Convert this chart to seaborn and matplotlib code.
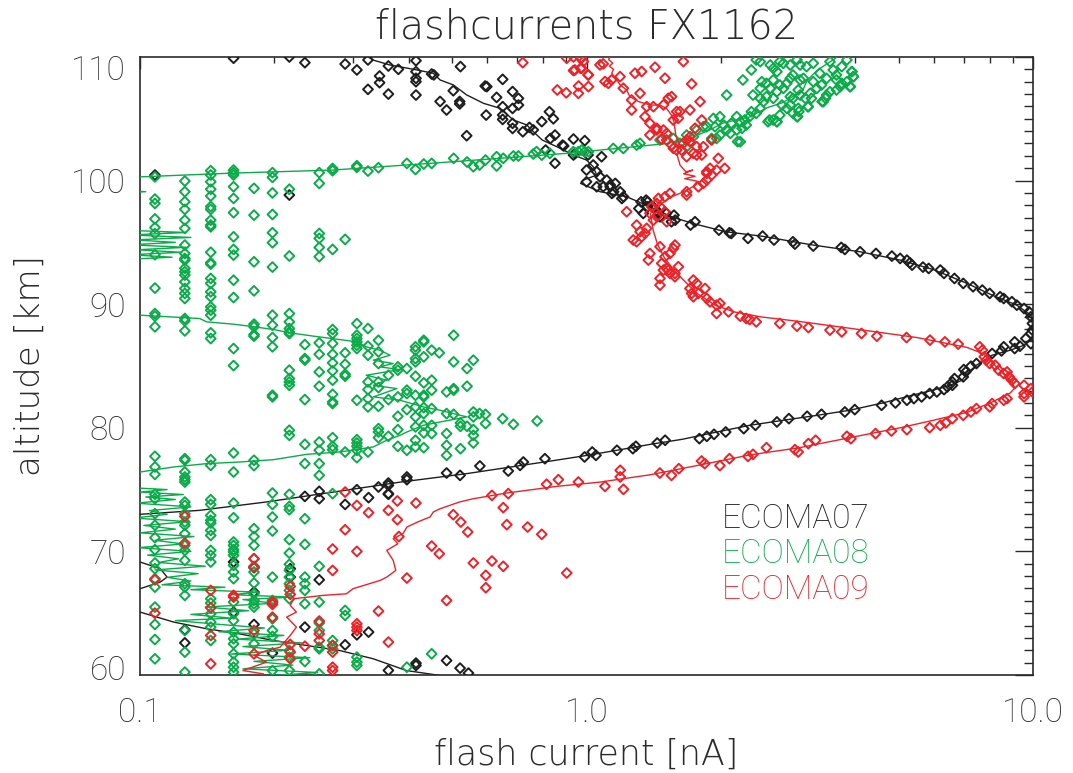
import numpy as np
import pandas as pd
import matplotlib
matplotlib.use('Agg')
import matplotlib.pyplot as plt
import matplotlib.transforms as mtransforms
import seaborn as sns
from matplotlib.ticker import FixedLocator, MultipleLocator, NullFormatter

# ---------------- data (flash current [nA], altitude [km]) ----------------
# ECOMA07 profile line
e07_line_cur = [0.31, 0.332, 0.362, 0.417, 0.454, 0.470, 0.503, 0.539, 0.588, 0.640, 0.686, 0.735,
                0.760, 0.796, 0.858, 0.935, 1.0, 1.035, 1.054, 0.984, 0.97, 1.072, 1.23, 1.36, 1.55,
                1.73, 2.05, 2.47, 3.22, 4.1, 5.04, 5.97, 7.12, 8.1, 9.2, 9.89, 10.0, 9.97, 9.55, 8.9,
                8.1, 7.47, 7.12, 6.94, 6.52, 5.97, 5.44, 4.61, 3.89, 3.29, 2.76, 2.32, 1.96, 1.64,
                1.39, 1.17, 0.984, 0.828, 0.760, 0.539, 0.382, 0.271, 0.192, 0.136, 0.1, 0.09, 0.09,
                0.1, 0.111, 0.115, 0.111, 0.1, 0.09, 0.09, 0.1, 0.119, 0.141, 0.167, 0.199, 0.236,
                0.280, 0.333, 0.395, 0.47, 0.5]
e07_line_alt = [110.5, 109.76, 109.36, 108.95, 108.68, 108.14, 107.74, 106.93, 106.25, 105.85, 104.9,
                104.5, 103.96, 103.28, 102.74, 102.07, 101.66, 101.12, 100.45, 100.04, 99.77, 99.1,
                98.69, 98.02, 97.07, 96.53, 95.86, 95.5, 94.78, 94.24, 93.57, 92.81, 91.68, 90.73,
                89.92, 89.11, 88.17, 87.22, 86.68, 86.28, 85.87, 85.06, 84.39, 83.85, 83.44, 83.04,
                82.69, 82.01, 81.42, 81.01, 80.61, 80.2, 79.66, 79.07, 78.66, 78.18, 77.72, 77.3,
                77.1, 76.29, 75.6, 74.8, 74.0, 73.32, 73.0, 72.9, 69.3, 69.14, 68.6, 67.92, 67.52,
                66.98, 66.9, 65.2, 65.09, 64.28, 63.74, 63.33, 62.79, 62.39, 61.98, 61.31, 60.36,
                59.96, 59.8]

# ECOMA07 samples
e07_pts_cur = [0.162, 0.216, 0.234, 0.288, 0.306, 0.324, 0.324, 0.344, 0.344, 0.360, 0.360, 0.379,
               0.415, 0.415, 0.415, 0.415, 0.415, 0.450, 0.455, 0.470, 0.486, 0.503, 0.520, 0.520,
               0.522, 0.539, 0.593, 0.598, 0.596, 0.629, 0.649, 0.649, 0.649, 0.649, 0.683, 0.683,
               0.683, 0.683, 0.704, 0.704, 0.72, 0.745, 0.76, 0.794, 0.826, 0.843, 0.85, 0.81, 0.85,
               0.83, 0.889, 0.935, 0.935, 0.991, 1.008, 1.035, 1.054, 1.0, 1.0, 1.054, 0.108, 0.216,
               0.884, 0.943, 1.081, 1.072, 1.110, 1.09, 1.13, 1.15, 1.19, 1.2, 1.325, 1.37, 1.31,
               1.42, 1.445, 1.13, 1.16, 1.14, 1.21, 1.36, 1.37, 1.34, 1.41, 1.45, 1.46, 1.51, 1.57,
               1.58, 1.55, 1.71, 1.75, 1.98, 2.11, 2.30,
               2.09, 2.48, 2.63, 2.9, 2.93, 3.22, 3.72, 3.79, 4.1, 4.45, 4.83, 5.04, 5.22, 5.3, 5.36,
               5.67, 5.84, 6.2, 6.32, 6.67, 6.98, 7.34, 7.7, 8.0, 8.44, 8.6, 8.97, 9.2, 9.55, 9.8,
               9.89, 9.97, 9.97, 9.89, 9.64, 9.1, 8.6, 8.1,
               9.89, 9.35, 9.1, 8.5, 7.47, 7.26, 7.07, 7.0, 6.98, 6.67, 6.6, 6.6, 6.43, 6.32, 6.09,
               5.87, 5.63, 5.41, 5.22, 4.92, 4.58, 3.99, 3.79, 3.36, 3.12, 2.84, 2.67, 2.39, 2.25,
               2.05, 1.93, 1.86, 1.79, 1.50, 1.44, 1.29, 1.27, 1.17, 1.05, 1.03, 0.99,
               0.807, 0.722, 0.71, 0.668, 0.577, 0.521, 0.486, 0.396, 0.396, 0.36, 0.36, 0.36, 0.342,
               0.325, 0.306, 0.252, 0.234, 0.252, 0.288, 0.36,
               0.252, 0.217, 0.217, 0.180, 0.180, 0.162, 0.162, 0.180, 0.234, 0.306, 0.325, 0.288,
               0.198, 0.126, 0.126, 0.415, 0.415, 0.486, 0.521, 0.544, 0.36]
e07_pts_alt = [109.9, 110.0, 109.54, 109.43, 108.95, 109.76, 107.38, 108.46, 107.92, 109.27, 107.0,
               109.0, 109.7, 108.81, 108.27, 108.0, 106.92, 108.62, 108.55, 106.4, 105.71, 107.27,
               106.4, 106.2, 109.22, 103.63, 107.65, 107.6, 105.3, 106.73, 108.19, 105.98, 105.3,
               104.95, 107.2, 105.84, 104.63, 104.22, 106.65, 106.11, 103.95, 104.3, 104.1, 104.77,
               105.57, 105.0, 103.68, 102.47, 101.4, 103.4, 102.8, 103.36, 102.07, 103.23, 102.07,
               101.26, 100.72, 100.85, 99.9, 99.5, 100.45, 98.83,
               102.87, 102.2, 101.93, 100.31, 100.04, 99.5, 99.5, 99.09, 99.09, 98.55, 98.28, 98.28,
               97.74, 97.74, 97.47, 99.64, 99.77, 98.96, 98.69, 98.42, 97.88, 97.34, 97.88, 97.34,
               97.07, 97.34, 97.2, 96.8, 96.67, 96.4, 96.67, 95.99, 95.72, 95.32,
               95.78, 95.51, 95.19, 95.05, 94.86, 94.7, 94.59, 94.43, 94.24, 94.1, 93.89, 93.7,
               93.56, 93.35, 93.16, 93.0, 92.89, 92.76, 92.49, 92.08, 91.68, 91.41, 91.14, 90.87,
               90.6, 90.46, 90.2, 89.92, 89.65, 89.38, 88.98, 88.44, 87.9, 87.63, 87.22, 86.95,
               86.55, 86.01,
               86.8, 86.6, 86.41, 86.22, 85.2, 84.98, 84.52, 84.71, 84.12, 83.98, 83.71, 83.44,
               83.31, 83.09, 82.9, 82.77, 82.5, 82.36, 82.23, 82.01, 81.82, 81.47, 81.28, 81.09,
               80.93, 80.74, 80.47, 80.2, 79.93, 79.66, 79.47, 79.31, 79.12, 78.99, 78.77, 78.5,
               78.31, 78.18, 77.77, 78.04, 77.64,
               77.5, 77.23, 76.96, 76.5, 76.91, 76.15, 76.34, 76.02, 75.8, 75.53, 75.34, 74.67,
               75.21, 74.35, 74.99, 74.86, 74.45, 74.26, 73.8, 74.62,
               67.7, 68.6, 67.92, 68.68, 66.71, 69.14, 65.09, 64.09, 63.87, 63.25, 63.47, 62.44,
               61.77, 63.66, 62.6, 60.96, 60.77, 61.17, 60.55, 60.15, 60.37]

# ECOMA08 profile line
e08_line_cur = [3.75, 3.56, 3.28, 3.12, 3.05, 2.75, 2.54, 2.32, 2.02, 1.89, 1.70, 1.52, 1.17, 0.90,
                0.64, 0.45, 0.27, 0.16, 0.10, 0.09, 0.09, 0.103, 0.09, 0.09, 0.127, 0.095, 0.13,
                0.097, 0.12, 0.095, 0.127, 0.098, 0.124, 0.095, 0.118, 0.09, 0.09, 0.1, 0.119,
                0.136, 0.141, 0.162, 0.176, 0.199, 0.217, 0.245, 0.280, 0.306, 0.321, 0.344, 0.363,
                0.333, 0.369, 0.344, 0.382, 0.321, 0.357, 0.333, 0.376, 0.333, 0.382, 0.431, 0.47,
                0.521, 0.54, 0.47, 0.431, 0.396, 0.382, 0.357, 0.333, 0.280, 0.236, 0.199, 0.167,
                0.141, 0.119, 0.1, 0.09, 0.09, 0.115, 0.10, 0.125, 0.103, 0.12, 0.098, 0.13, 0.105,
                0.115, 0.097, 0.128, 0.102, 0.12, 0.10, 0.132, 0.108, 0.125, 0.099, 0.13, 0.104,
                0.122, 0.11, 0.14, 0.108, 0.135, 0.115, 0.13, 0.112, 0.155, 0.13, 0.185, 0.16, 0.22,
                0.17, 0.20, 0.14, 0.175, 0.13, 0.16, 0.12, 0.15, 0.19, 0.15, 0.21, 0.165, 0.23, 0.17,
                0.215, 0.16, 0.24, 0.18, 0.22, 0.17, 0.25, 0.19]
e08_line_alt = [110.3, 109.75, 108.9, 108.1, 107.3, 106.3, 105.9, 105.15, 104.65, 104.1, 103.4,
                103.0, 102.6, 102.2, 101.8, 101.4, 100.85, 100.6, 100.3, 100.25, 99.2, 99.1, 99.0,
                96.0, 95.8, 95.6, 95.4, 95.2, 95.0, 94.8, 94.6, 94.4, 94.2, 94.0, 93.8, 93.6, 89.2,
                89.11, 88.97, 88.84, 88.57, 88.38, 88.22, 87.95, 87.68, 87.41, 87.14, 86.95, 86.55,
                86.28, 85.87, 85.47, 85.2, 84.93, 84.71, 84.25, 83.85, 83.44, 83.17, 82.5, 82.23,
                81.69, 81.42, 81.01, 80.88, 80.47, 80.2, 79.66, 79.39, 78.99, 78.45, 78.04, 77.85,
                77.42, 77.23, 77.1, 76.83, 76.42, 76.3, 75.2, 75.0, 74.8, 74.6, 74.4, 74.2, 73.9,
                73.6, 73.3, 73.0, 72.7, 72.4, 72.1, 71.8, 71.5, 71.2, 70.9, 70.6, 70.3, 70.0, 69.7,
                69.4, 69.1, 68.8, 68.5, 68.2, 67.9, 67.6, 67.3, 67.1, 66.9, 66.7, 66.5, 66.3, 66.1,
                65.8, 65.5, 65.2, 64.9, 64.6, 64.4, 64.1, 63.8, 63.5, 63.2, 62.9, 62.6, 62.3, 62.0,
                61.7, 61.4, 61.1, 60.8, 60.5, 60.2, 59.9]

# ECOMA08 samples at low currents fall on discrete current steps
e08_col_cur = [0.108, 0.126, 0.144, 0.162, 0.180, 0.198, 0.216, 0.234, 0.252, 0.270, 0.288, 0.306,
               0.324, 0.342, 0.360, 0.378, 0.396, 0.414, 0.432, 0.450, 0.468, 0.486, 0.504, 0.522,
               0.540, 0.558, 0.576, 0.594]
e08_col_alt = [
    [100.3, 98.5, 98.15, 96.9, 96.2, 95.7, 94.0, 91.3, 89.24, 89.03, 88.17, 77.69, 76.83, 76.23,
     74.62, 74.26, 73.05, 72.11, 71.11, 70.14, 69.06, 68.6, 67.79, 67.11, 65.49, 64.09, 62.87, 61.31],
    [99.96, 99.1, 98.29, 97.67, 96.8, 96.13, 94.78, 94.1, 93.7, 93.56, 92.9, 92.62, 92.35, 91.8,
     91.27, 90.87, 90.46, 88.84, 88.65, 87.84, 77.5, 77.37, 76.42, 76.02, 75.8, 75.61, 73.99, 73.72,
     73.05, 72.37, 72.11, 71.43, 70.48, 70.08, 69.27, 67.38, 67.11, 66.44, 63.6, 61.85, 60.23],
    [100.8, 100.45, 99.9, 99.3, 98.75, 97.9, 97.67, 96.8, 96.4, 96.26, 94.2, 93.35, 93.24, 92.08,
     91.68, 91.0, 90.6, 89.78, 89.51, 89.11, 87.68, 87.22, 77.42, 76.96, 74.18, 73.8, 72.91, 72.51,
     72.29, 71.7, 71.29, 70.08, 69.68, 69.14, 66.17, 65.82, 64.95, 64.28, 63.87, 62.79],
    [100.85, 100.64, 100.45, 99.5, 98.56, 97.4, 95.45, 94.43, 93.97, 91.94, 90.54, 86.41, 85.03,
     77.96, 76.42, 73.91, 72.72, 70.76, 70.48, 70.14, 69.95, 69.68, 68.87, 68.33, 67.79, 65.9, 64.95,
     64.41, 63.47, 62.93, 62.52, 61.71, 61.04, 60.63, 60.23],
    [99.37, 97.2, 93.43, 91.08, 88.38, 88.17, 87.54, 87.41, 77.37, 76.94, 71.84, 71.2, 70.48, 69.41,
     68.79, 68.33, 67.44, 66.57, 66.03, 65.76, 65.49, 63.33, 62.52],
    [100.64, 100.26, 99.0, 97.26, 95.78, 94.97, 93.0, 89.11, 88.3, 87.3, 86.55, 82.63, 82.5, 74.72,
     73.8, 72.78, 71.65, 67.92, 66.03, 65.9, 64.55, 63.6, 63.12, 60.36],
    [99.3, 93.9, 89.24, 88.57, 88.03, 87.76, 87.62, 84.66, 83.98, 83.71, 83.44, 79.8, 79.39, 74.62,
     73.64, 73.37, 70.95, 69.86, 68.95, 68.46, 67.92, 67.38, 66.84, 66.17, 61.98, 61.44, 60.36],
    [86.73, 85.6, 85.47, 82.28, 78.66, 77.1, 72.64, 70.57, 67.92, 67.38, 66.84, 65.76, 61.09],
    [100.64, 99.77, 95.72, 95.32, 94.59, 93.84, 86.87, 85.95, 84.52, 83.36, 78.85, 78.18, 77.1, 76.15,
     68.79, 65.9, 64.2, 63.6, 62.25, 62.12, 60.09],
    [100.98, 100.8, 94.43, 87.95, 87.62, 86.82, 85.95, 85.25, 84.6, 83.85, 82.71, 82.09, 81.96, 79.2,
     78.5, 78.23, 74.67, 62.79, 62.39, 62.12],
    [95.24, 86.06, 85.14, 84.33, 84.17, 78.04, 65.22, 64.82],
    [101.2, 101.07, 88.43, 87.49, 87.22, 86.95, 86.68, 86.41, 82.23, 79.04, 78.77, 78.5, 78.18, 77.58,
     61.44, 61.04, 60.77],
    [100.77, 88.03, 86.6, 85.87, 83.71, 83.09, 82.36, 81.69, 78.04],
    [101.04, 87.08, 86.14, 85.2, 83.71, 83.25, 81.74, 79.93, 79.66, 79.2],
    [84.25, 82.28, 79.31],
    [84.93, 84.66, 82.5, 80.93, 79.85, 78.5],
    [101.39, 84.79, 83.04, 82.77, 81.47, 78.18, 60.63],
    [100.9, 86.55, 86.28, 85.6, 85.33, 84.17, 82.63, 81.69, 80.88, 80.07, 78.99, 78.45],
    [101.34, 87.08, 86.95, 85.74, 83.63, 82.63, 82.5, 81.63, 81.15, 80.2, 79.58, 78.39],
    [101.39, 86.28, 83.85, 83.04, 81.55, 80.2, 79.53, 61.71],
    [86.06],
    [82.9, 81.15, 79.53, 78.58, 77.77],
    [101.8, 87.49, 85.33, 83.17, 83.04, 81.09],
    [80.39, 80.12, 78.31],
    [101.5, 84.79, 83.36, 80.12],
    [101.12, 85.47, 81.28, 80.88, 79.85, 79.39, 78.77],
    [101.26, 81.15],
    [101.66, 81.09, 80.34],
]
# ECOMA08 samples at higher currents
e08_pts_cur = [0.629, 0.629, 0.651, 0.649, 0.686, 0.686, 0.704, 0.760, 0.773, 0.775, 0.794, 0.828,
               0.934, 0.959, 0.992, 0.975, 1.01, 1.148, 1.209, 1.295, 1.318,
               1.461, 1.565, 1.619, 1.676, 1.676, 1.735, 1.765, 1.859, 1.924, 1.94, 1.99, 2.03,
               1.956, 2.06, 2.10, 2.11, 2.17, 2.21, 2.23, 2.28, 2.32, 2.34, 2.40, 2.45, 2.49, 2.53,
               2.55, 2.62, 2.67, 2.71, 2.74, 2.81, 2.90, 2.96, 2.98, 2.86, 2.90, 3.01, 3.14, 3.17,
               3.19, 3.39, 3.45, 3.51, 3.63, 3.73, 3.83, 3.89, 3.70, 3.63, 3.45, 3.33, 3.51, 3.57,
               3.63, 3.73, 3.83, 3.93, 3.96, 2.40, 2.45, 2.58, 2.62, 2.67, 2.71, 2.76, 2.86, 2.96,
               3.01, 3.11, 3.22, 2.90, 2.86, 2.81, 2.76, 2.71, 2.67, 2.58, 2.53, 2.47, 2.62, 3.01,
               3.06, 3.22, 3.28, 3.36, 2.06, 2.24, 2.36, 2.45, 2.62, 2.21, 1.907, 1.827, 1.99, 2.17,
               2.26, 2.45, 2.86, 3.09, 2.98, 2.18, 2.67, 2.57, 2.97, 2.99, 3.13, 3.37, 3.43, 3.9,
               3.96, 3.93, 2.34]
e08_pts_alt = [101.93, 101.18, 101.8, 80.74, 101.99, 80.28, 101.99, 102.15, 102.34, 80.55, 102.06,
               102.2, 102.34, 102.34, 102.34, 102.47, 102.33, 102.6, 102.6, 102.87, 103.01,
               103.28, 103.41, 103.01, 102.74, 103.68, 103.55, 104.09, 104.36, 105.03, 104.36,
               105.17, 104.49, 103.41, 104.09, 103.82, 104.63, 105.17, 104.76, 104.22, 104.49,
               105.17, 105.57, 105.44, 105.84, 106.38, 106.79, 104.76, 104.9, 104.76, 105.3, 106.11,
               105.84, 105.44, 105.17, 105.84, 106.79, 106.65, 106.92, 105.98, 107.06, 106.65,
               106.38, 106.92, 107.19, 107.33, 107.87, 108.0, 107.6, 107.6, 108.14, 108.27, 108.68,
               109.62, 108.95, 108.54, 109.22, 109.76, 108.81, 108.41, 109.76, 109.62, 109.35,
               109.08, 108.81, 109.62, 109.49, 109.35, 109.76, 109.35, 109.22, 109.49, 108.54,
               108.27, 107.87, 107.46, 107.73, 107.19, 107.46, 107.87, 108.0, 108.14, 108.14,
               108.27, 108.0, 107.46, 107.73, 106.92, 108.14, 106.92, 106.65, 106.65, 103.14,
               103.41, 104.36, 103.68, 104.09, 104.9, 107.46, 106.11, 106.65, 107.33, 103.15,
               104.77, 104.9, 105.17, 105.58, 105.98, 106.39, 106.66, 107.6, 108.41, 108.82,
               108.95]

# ECOMA09 profile line
e09_line_cur = [1.12, 1.129, 1.12, 1.145, 1.125, 1.15, 1.139, 1.16, 1.19, 1.23, 1.25, 1.31, 1.39,
                1.46, 1.51, 1.55, 1.57, 1.585, 1.61, 1.596, 1.62, 1.67, 1.73, 1.65, 1.75, 1.66, 1.77,
                1.73, 1.65, 1.55, 1.49, 1.44, 1.39, 1.41, 1.44, 1.49, 1.57, 1.65, 1.77, 1.94, 2.14,
                2.46, 3.0, 3.89, 5.50, 7.12, 7.73, 8.44, 9.02, 9.1, 8.88, 8.01, 7.12, 5.97, 5.04,
                3.89, 3.01, 2.32, 1.80, 1.39, 1.07, 0.858, 0.662, 0.558, 0.52, 0.47, 0.454, 0.446,
                0.42, 0.396, 0.388, 0.369, 0.378, 0.357, 0.369, 0.374, 0.357, 0.345, 0.30, 0.29,
                0.257, 0.221, 0.217, 0.224, 0.213, 0.224, 0.217, 0.206, 0.192, 0.18, 0.192, 0.17,
                0.189, 0.18]
e09_line_alt = [110.4, 110.0, 109.8, 109.5, 109.25, 109.0, 108.7, 108.3, 107.73, 107.33, 106.8,
                106.38, 106.11, 106.11, 105.84, 105.3, 104.76, 103.68, 102.87, 102.06, 101.25,
                100.71, 100.85, 100.55, 100.35, 100.15, 99.95, 99.5, 99.09, 98.69, 98.28, 97.8,
                97.34, 96.0, 94.91, 93.83, 92.75, 91.94, 90.86, 89.92, 89.38, 88.97, 88.6, 88.05,
                87.3, 86.5, 86.0, 84.65, 83.6, 83.2, 82.8, 82.0, 81.25, 80.6, 80.0, 79.2, 78.4,
                77.8, 77.0, 76.2, 75.6, 75.26, 74.72, 74.26, 74.0, 73.45, 73.19, 72.78, 72.4,
                71.97, 71.43, 71.03, 70.62, 70.08, 69.27, 68.46, 67.92, 67.65, 66.98, 66.57, 66.44,
                66.17, 65.63, 65.09, 64.68, 63.87, 63.2, 62.25, 61.98, 61.58, 61.04, 60.36, 60.09,
                59.8]

# ECOMA09 samples
e09_pts_cur = [0.72, 0.935, 0.97, 1.008, 0.96, 0.901, 0.935, 0.97,
               0.903, 0.975, 0.984, 0.942, 0.975, 1.01, 1.01, 0.959, 0.86, 1.072, 1.09, 1.138,
               1.10, 1.119, 1.189, 1.209, 1.284, 1.329, 1.424, 1.499, 1.648, 1.72, 1.318, 1.364,
               1.262, 1.262, 1.412, 1.487, 1.525, 1.551, 1.592, 1.619, 1.606, 1.565, 1.352, 1.387,
               1.437, 1.437, 1.387, 1.474, 1.487, 1.512, 1.512, 1.551, 1.565, 1.592, 1.633, 1.648,
               1.676, 1.705, 1.796, 1.812, 1.705, 1.75, 1.705, 1.765, 1.827, 1.812, 1.676, 1.765,
               1.735, 1.859, 1.891, 1.907, 1.859, 1.827, 1.781, 1.859, 1.956, 1.973, 2.04, 1.907,
               1.676, 1.676, 1.538, 1.499, 1.449, 1.437, 1.40, 1.387, 1.412, 1.461, 1.437, 1.499,
               1.512, 1.23, 1.295, 1.318, 1.273, 1.295, 1.329, 1.352, 1.364, 1.387, 1.376, 1.461,
               1.499, 1.538, 1.565, 1.578, 1.474, 1.512, 1.525, 1.538, 1.487, 1.606, 1.578, 1.578,
               1.461, 1.461, 1.735, 1.765, 1.705, 1.72, 1.843, 1.735, 1.781, 1.859, 1.891, 1.956,
               1.99, 1.956, 2.08, 2.21, 2.32, 2.40, 2.28, 2.71, 2.96, 3.14, 3.51, 3.73, 4.13, 4.47,
               5.21, 5.88, 6.35, 6.80,
               7.6, 7.7, 7.78, 7.86, 8.0, 8.23, 8.38, 8.6, 8.75, 8.84, 8.97, 9.1, 9.55, 9.89, 9.55,
               9.97, 9.55, 8.75, 8.6, 8.1, 8.0, 7.47, 7.26, 6.98, 6.6, 6.38, 6.2, 5.87, 5.22, 4.82,
               4.44, 3.91, 3.83, 3.26, 3.14, 2.98, 2.93, 2.53, 2.36, 2.30, 2.09, 1.99, 1.84, 1.81,
               1.61, 1.55, 1.46, 1.21, 1.19, 1.19, 1.10, 0.959, 0.865,
               0.614, 0.668, 0.814, 0.651, 0.663, 0.738, 0.794, 0.903, 0.558, 0.614, 0.651, 0.595,
               0.595, 0.486, 0.342, 0.36, 0.45, 0.468, 0.503, 0.523, 0.542,
               0.288, 0.306, 0.325, 0.377, 0.415, 0.36, 0.377, 0.288, 0.38, 0.27, 0.306, 0.27,
               0.396, 0.306, 0.306, 0.306, 0.27, 0.27, 0.27, 0.27, 0.252, 0.252, 0.252, 0.234,
               0.217, 0.217, 0.217, 0.217, 0.217, 0.198, 0.198, 0.198, 0.18, 0.18, 0.18, 0.162,
               0.162, 0.144, 0.144, 0.144, 0.144, 0.126, 0.126, 0.108, 0.108, 0.18]
e09_pts_alt = [109.54, 108.9, 109.08, 108.55, 107.65, 107.1, 110.0, 109.9,
               109.9, 109.9, 109.63, 108.95, 109.09, 108.55, 107.6, 107.06, 107.33, 109.36, 109.44,
               108.14, 108.01, 107.87, 108.41, 107.47, 108.68, 108.82, 109.17, 108.28, 109.63,
               107.82, 107.06, 105.98, 106.52, 105.71, 105.98, 106.12, 106.66, 106.79, 105.58,
               105.58, 105.04, 104.9, 105.17, 104.63, 104.23, 104.09, 103.69, 103.34, 104.09,
               103.82, 103.28, 102.88, 102.61, 102.47, 102.47, 103.01, 103.28, 103.55, 106.39,
               104.9, 105.71, 104.23, 103.15, 102.74, 102.74, 102.07, 101.93, 102.07, 102.2,
               100.72, 100.99, 100.45, 100.04, 99.77, 99.5, 100.58, 100.85, 101.8, 100.99, 103.28,
               99.1, 98.83, 98.96, 98.69, 98.56, 98.15, 97.88, 97.35, 96.8, 97.88, 97.08, 97.48,
               96.67, 97.48, 96.4, 95.86, 95.19, 95.05, 95.46, 95.73, 96.13, 94.1, 93.57, 94.65,
               93.84, 94.1, 94.51, 94.78, 93.3, 92.89, 92.76, 92.49, 92.76, 93.03, 92.49, 92.22,
               92.08, 91.54, 91.95, 91.68, 91.27, 90.87, 91.27, 90.6, 90.87, 90.46, 90.19, 89.92,
               90.06, 89.25, 89.38, 89.03, 88.76, 88.57, 88.84, 88.44, 88.22, 88.11, 87.9, 87.76,
               87.63, 87.41, 87.3, 87.09, 86.95, 86.77,
               86.55, 86.28, 85.74, 85.47, 85.2, 85.06, 84.66, 84.39, 84.52, 84.12, 83.85, 83.58,
               83.44, 83.17, 82.77, 82.9, 82.5, 82.36, 82.23, 81.96, 81.69, 81.55, 81.28, 81.01,
               80.74, 80.39, 80.2, 80.01, 79.85, 79.74, 79.53, 79.12, 79.31, 78.99, 78.72, 78.04,
               78.23, 78.39, 77.85, 77.69, 77.5, 76.94, 77.1, 77.31, 76.69, 76.15, 76.34, 75.02,
               76.02, 76.56, 75.26, 75.61, 75.8,
               74.53, 74.67, 75.43, 73.54, 72.16, 71.97, 71.38, 68.25, 69.06, 69.22, 68.79, 68.06,
               67.06, 66.03, 65.17, 62.66, 70.43, 69.81, 72.97, 72.37, 71.57,
               74.8, 73.72, 73.13, 74.08, 73.91, 73.32, 72.56, 71.75, 71.2, 70.19, 70.0, 68.46,
               67.84, 64.14, 63.87, 63.6, 62.39, 61.85, 60.63, 60.36, 64.36, 63.33, 62.79, 62.33,
               67.17, 66.52, 62.47, 61.85, 61.31, 65.9, 65.71, 64.68, 69.41, 68.73, 63.6, 66.44,
               66.3, 66.84, 65.44, 63.2, 60.9, 72.83, 70.67, 67.7, 65.0, 61.71]

flights = ['ECOMA07', 'ECOMA08', 'ECOMA09']
colors = ['#1e1e1e', '#0bab4a', '#ec2228']

# expand the stepped ECOMA08 columns into plain point lists
e08_all_cur = list(e08_pts_cur)
e08_all_alt = list(e08_pts_alt)
for c, alts in zip(e08_col_cur, e08_col_alt):
    e08_all_cur += [c] * len(alts)
    e08_all_alt += alts

series = [
    (e07_line_cur, e07_line_alt, e07_pts_cur, e07_pts_alt),
    (e08_line_cur, e08_line_alt, e08_all_cur, e08_all_alt),
    (e09_line_cur, e09_line_alt, e09_pts_cur, e09_pts_alt),
]

# ---------------- plot ----------------
sns.set_theme(style='white')
plt.rcParams['font.family'] = ['Roboto', 'DejaVu Sans']
plt.rcParams['font.weight'] = 'light'
ink = '#2a2a2a'
wide_font = dict(family=['DejaVu Sans'], weight='light')

fig = plt.figure(figsize=(10.73, 7.73), dpi=100)
ax = fig.add_axes([0.1305, 0.1268, 0.8322, 0.7995])
ax.set_xscale('log')

for i, (lc, la, pc, pa) in enumerate(series):
    sns.lineplot(x=lc, y=la, sort=False, estimator=None, color=colors[i], linewidth=1.0,
                 ax=ax, zorder=2 + 2 * i)
    sns.scatterplot(x=pc, y=pa, marker='D', s=25, color=colors[i], facecolor='none',
                    edgecolor=colors[i], linewidth=1.4, ax=ax, legend=False, zorder=3 + 2 * i)

ax.set_xlim(0.1, 10)
ax.set_ylim(60, 110)

ax.xaxis.set_major_locator(FixedLocator([0.1, 1.0, 10.0]))
ax.set_xticklabels(['0.1', '1.0', '10.0'])
ax.xaxis.set_minor_locator(FixedLocator([m * d for d in (0.1, 1.0) for m in range(2, 10)]))
ax.xaxis.set_minor_formatter(NullFormatter())
ax.yaxis.set_major_locator(FixedLocator([60, 70, 80, 90, 100, 110]))
ax.yaxis.set_minor_locator(MultipleLocator(1))

ax.tick_params(which='both', direction='in', top=True, right=True, color=ink, width=1.0)
ax.tick_params(axis='x', which='major', length=8.6, pad=16, labelsize=24, labelcolor=ink)
ax.tick_params(axis='x', which='minor', length=4.3)
ax.tick_params(axis='y', which='major', length=13, pad=10, labelsize=24, labelcolor=ink)
ax.tick_params(axis='y', which='minor', length=6.5)
for sp in ax.spines.values():
    sp.set_color(ink)
    sp.set_linewidth(1.2)

# end labels are pulled inside the axis range
yticks = ax.yaxis.get_major_ticks()
for tk, dy in ((yticks[0], 7), (yticks[-1], -11)):
    lab = tk.label1
    lab.set_transform(lab.get_transform() + mtransforms.ScaledTranslation(0, dy / 100, fig.dpi_scale_trans))

ax.set_title('flashcurrents FX1162', fontsize=28.5, color=ink, pad=13, fontdict=wide_font)
ax.set_xlabel('flash current [nA]', fontsize=25, color=ink, labelpad=6, fontdict=wide_font)
ax.set_ylabel('altitude [km]', fontsize=24.5, color=ink, labelpad=18, fontdict=wide_font)

for i, name in enumerate(flights):
    ax.text(0.652, 0.238 - 0.0575 * i, name, transform=ax.transAxes, color=colors[i],
            fontsize=24, va='baseline', ha='left')

fig.savefig('out.png', dpi=100)
